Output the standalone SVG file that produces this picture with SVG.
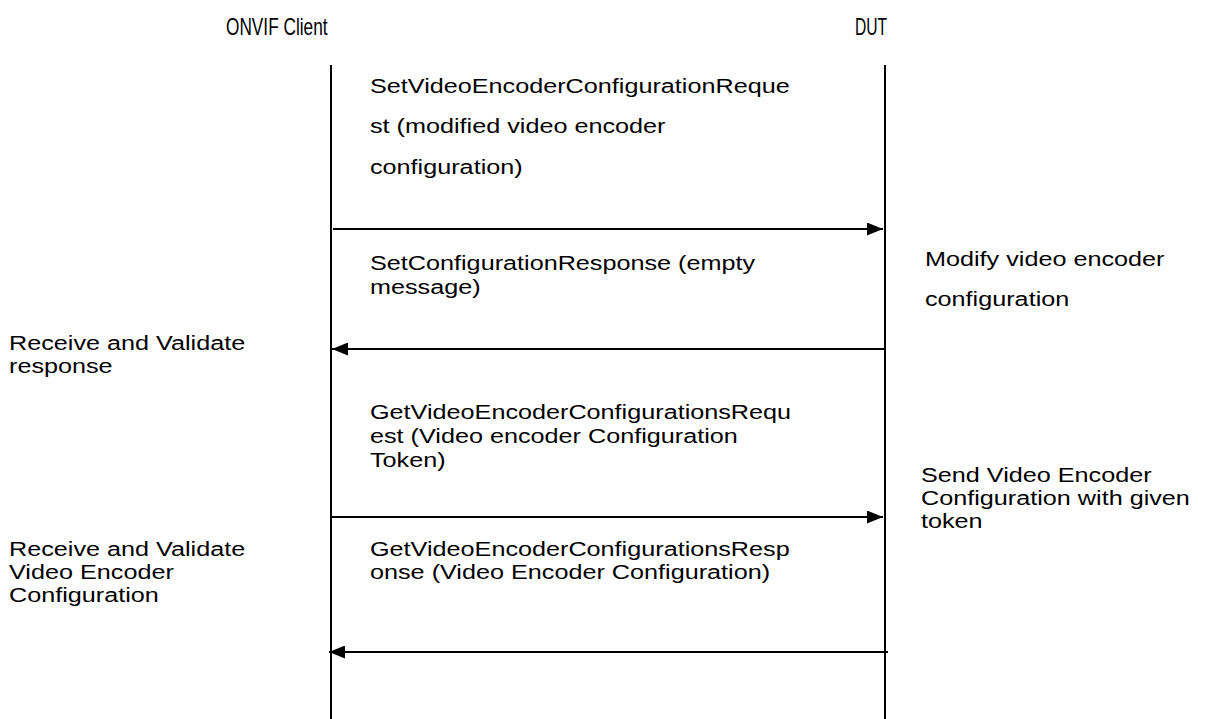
<svg xmlns="http://www.w3.org/2000/svg" width="1211" height="719" viewBox="0 0 1211 719">
<defs>
<marker id="ah" markerWidth="16" markerHeight="13" refX="16" refY="6.5" orient="auto" markerUnits="userSpaceOnUse">
<path d="M0,0 L16,6.5 L0,13 Z" fill="#000"/>
</marker>
<style>
text{font-family:"Liberation Sans",Arial,sans-serif;font-size:21px;fill:#000}
.title{font-size:23px}
.life{stroke:#000;stroke-width:2;fill:none}
.msg{stroke:#000;stroke-width:2;fill:none;marker-end:url(#ah)}
</style>
</defs>
<rect width="1211" height="719" fill="#fff"/>
<g id="client">
<text class="title" transform="translate(226,35) scale(0.75,1)">ONVIF Client</text>
<line class="life" x1="331" y1="65" x2="331" y2="719"/>
</g>
<g id="dut">
<text class="title" transform="translate(855,35) scale(0.68,1)">DUT</text>
<line class="life" x1="885" y1="65" x2="885" y2="719"/>
</g>
<g id="connectors">
<line class="msg" x1="333" y1="229" x2="883" y2="229"/>
<line class="msg" x1="884" y1="349" x2="332" y2="349"/>
<line class="msg" x1="331" y1="517" x2="883" y2="517"/>
<line class="msg" x1="888" y1="652" x2="329" y2="652"/>
</g>
<g id="msg1" transform="translate(370,0) scale(1.2,1)">
<text x="0" y="93">SetVideoEncoderConfigurationReque</text>
<text x="0" y="133">st (modified video encoder</text>
<text x="0" y="174">configuration)</text>
</g>
<g id="msg2" transform="translate(370,0) scale(1.2,1)">
<text x="0" y="270">SetConfigurationResponse (empty</text>
<text x="0" y="294">message)</text>
</g>
<g id="dut-action1" transform="translate(925,0) scale(1.2,1)">
<text x="0" y="266">Modify video encoder</text>
<text x="0" y="306">configuration</text>
</g>
<g id="client-action1" transform="translate(9,0) scale(1.2,1)">
<text x="0" y="350">Receive and Validate</text>
<text x="0" y="373">response</text>
</g>
<g id="msg3" transform="translate(370,0) scale(1.2,1)">
<text x="0" y="419">GetVideoEncoderConfigurationsRequ</text>
<text x="0" y="443">est (Video encoder Configuration</text>
<text x="0" y="467">Token)</text>
</g>
<g id="dut-action2" transform="translate(921,0) scale(1.2,1)">
<text x="0" y="482">Send Video Encoder</text>
<text x="0" y="505">Configuration with given</text>
<text x="0" y="528">token</text>
</g>
<g id="client-action2" transform="translate(9,0) scale(1.2,1)">
<text x="0" y="556">Receive and Validate</text>
<text x="0" y="579">Video Encoder</text>
<text x="0" y="602">Configuration</text>
</g>
<g id="msg4" transform="translate(370,0) scale(1.2,1)">
<text x="0" y="556">GetVideoEncoderConfigurationsResp</text>
<text x="0" y="579">onse (Video Encoder Configuration)</text>
</g>
</svg>
